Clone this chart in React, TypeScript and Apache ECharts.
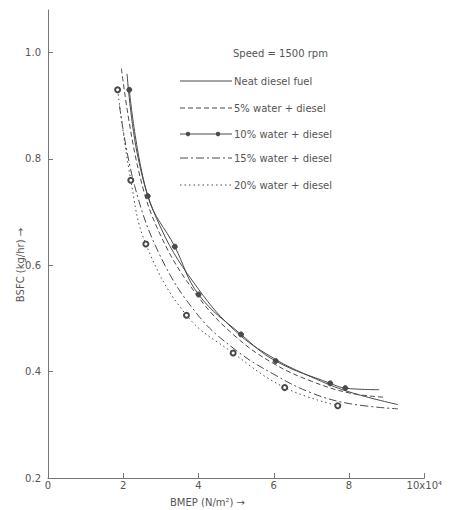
import React, { useEffect, useRef } from "react";
import * as echarts from "echarts";

const xTicks = [0, 2, 4, 6, 8, 10];
const yTicks = [0.2, 0.4, 0.6, 0.8, 1.0];
const seriesNames = [
  "Neat diesel fuel",
  "5% water + diesel",
  "10% water + diesel",
  "15% water + diesel",
  "20% water + diesel",
];
const neat: [number, number][] = [
  [2.1, 0.96], [2.4, 0.8], [3, 0.67], [4, 0.555], [5, 0.475], [6, 0.425], [7, 0.39], [8, 0.362], [9.3, 0.338],
];
const water5: [number, number][] = [
  [1.95, 0.97], [2.4, 0.78], [3, 0.655], [4, 0.54], [5, 0.465], [6, 0.415], [7, 0.382], [8, 0.36], [8.9, 0.352],
];
const water10: [number, number][] = [
  [2.16, 0.93], [2.65, 0.73], [3.37, 0.635], [4.0, 0.545], [5.13, 0.47], [6.05, 0.42], [7.5, 0.378], [7.9, 0.369], [8.8, 0.366],
];
const water15: [number, number][] = [
  [1.9, 0.9], [2.3, 0.75], [3, 0.615], [4, 0.505], [5, 0.44], [6, 0.395], [7, 0.36], [8, 0.34], [9.3, 0.33],
];
const water20: [number, number][] = [
  [1.85, 0.93], [2.2, 0.76], [2.6, 0.64], [3.68, 0.506], [4.92, 0.435], [6.29, 0.37], [7.7, 0.336],
];

const ink = "#555";
const lineInk = "#4a4a4a";

export default function App() {
  const ref = useRef<HTMLDivElement>(null);
  useEffect(() => {
    const chart = echarts.init(ref.current!, null, { renderer: "svg" });
    const font = "DejaVu Sans";
    const dashes: any[] = ["solid", [5, 3], "solid", [8, 3, 2, 3], [1.5, 3]];
    const mk = (i: number, data: [number, number][], symbol: string, lastBare = false) => ({
      name: seriesNames[i],
      type: "line",
      data: data.map((d, k) =>
        lastBare && k === data.length - 1 ? { value: d, symbol: "none" } : { value: d }
      ),
      smooth: 0.4,
      symbol,
      symbolSize: 5,
      showSymbol: symbol !== "none",
      lineStyle: { color: lineInk, width: 1, type: dashes[i] },
      itemStyle: { color: lineInk, borderColor: lineInk },
    });
    const legendTop = [73, 100, 126, 150, 177];
    const legendGraphics: any[] = [];
    seriesNames.forEach((n, i) => {
      const y = legendTop[i];
      legendGraphics.push({
        type: "line",
        shape: { x1: 172, y1: y, x2: 224, y2: y },
        style: { stroke: lineInk, lineWidth: 1, lineDash: dashes[i] === "solid" ? null : dashes[i] },
      });
      if (i === 2) {
        legendGraphics.push({ type: "circle", shape: { cx: 180, cy: y, r: 2.2 }, style: { fill: lineInk } });
        legendGraphics.push({ type: "circle", shape: { cx: 210, cy: y, r: 2.2 }, style: { fill: lineInk } });
      }
      legendGraphics.push({
        type: "text",
        x: 226,
        y: y,
        style: { text: n, fill: ink, fontSize: 10, fontFamily: font, textVerticalAlign: "middle" },
      });
    });
    chart.setOption({
      animation: false,
      backgroundColor: "#fff",
      textStyle: { fontFamily: font },
      grid: { left: 40, right: 17, top: 2, bottom: 32 },
      graphic: [
        {
          type: "text",
          x: 225,
          y: 45,
          style: { text: "Speed = 1500 rpm", fill: ink, fontSize: 10, fontFamily: font, textVerticalAlign: "middle" },
        },
        {
          type: "text",
          x: 162,
          y: 494,
          style: { text: "BMEP (N/m²) \u2192", fill: ink, fontSize: 10, fontFamily: font, textVerticalAlign: "middle" },
        },
        {
          type: "text",
          x: 12,
          y: 257,
          rotation: Math.PI / 2,
          style: {
            text: "BSFC (kg/hr) \u2192",
            fill: ink,
            fontSize: 10,
            fontFamily: font,
            textAlign: "center",
            textVerticalAlign: "middle",
          },
        },
        ...legendGraphics,
      ],
      xAxis: {
        type: "value",
        min: 0,
        max: 10,
        interval: 2,
        splitLine: { show: false },
        axisLine: { lineStyle: { color: "#777" } },
        axisTick: { inside: true, length: 5, lineStyle: { color: "#777" } },
        axisLabel: {
          color: ink,
          fontSize: 10,
          margin: 2,
          formatter: (v: number) => (v === 10 ? "10x10\u2074" : String(v)),
          customValues: xTicks,
        },
      },
      yAxis: {
        type: "value",
        min: 0.2,
        max: 1.08,
        splitLine: { show: false },
        axisLine: { lineStyle: { color: "#777" } },
        axisTick: { inside: true, length: 5, lineStyle: { color: "#777" }, customValues: yTicks },
        axisLabel: {
          color: ink,
          fontSize: 10,
          margin: 7,
          customValues: yTicks,
          formatter: (v: number) => v.toFixed(1),
        },
      },
      series: [
        mk(0, neat, "none"),
        mk(1, water5, "none"),
        mk(2, water10, "circle", true),
        mk(3, water15, "none"),
        mk(4, water20, "emptyCircle"),
      ],
    });
    return () => chart.dispose();
  }, []);
  return <div ref={ref} style={{ width: 437, height: 502 }} />;
}
